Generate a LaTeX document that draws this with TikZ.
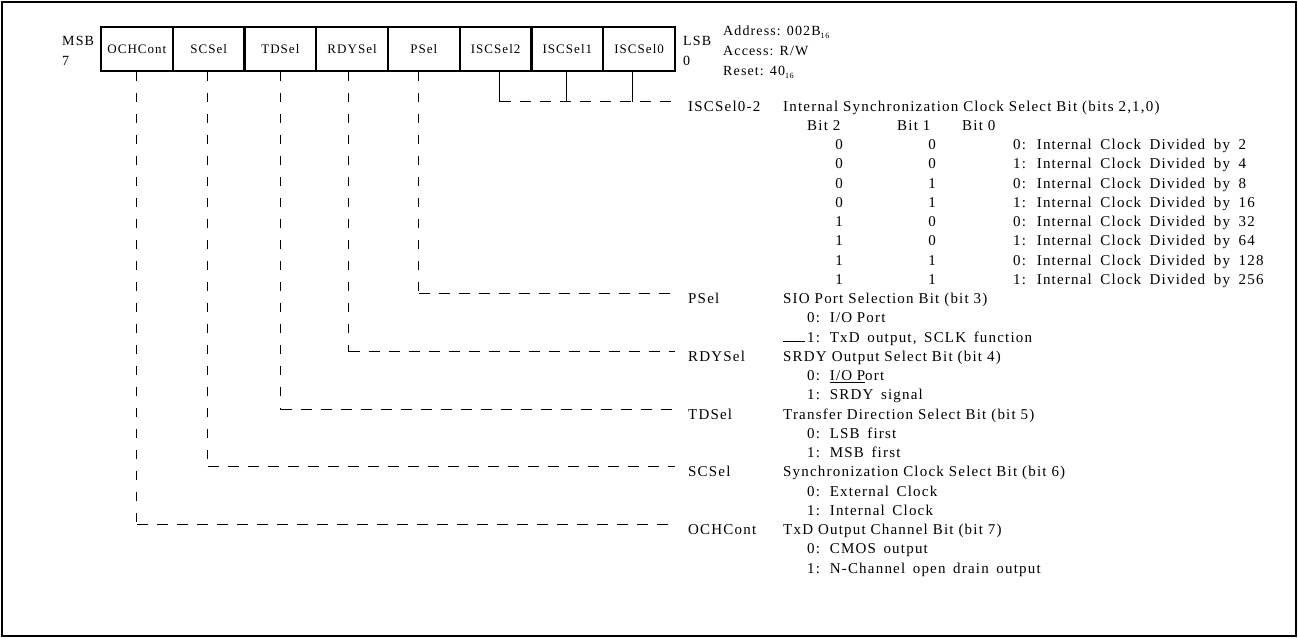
\documentclass[tikz,border=0pt]{standalone}
\usepackage{fontspec}
\setmainfont{Liberation Serif}
\newfontfamily\rfam[LetterSpace=8]{Liberation Serif}
\newcommand\mytxt{\rfam\fontsize{15}{18}\selectfont}
\newcommand\mycell{\rfam\fontsize{13}{15}\selectfont}
\newcommand\myaddr{\rfam\fontsize{14}{16}\selectfont}
\newcommand\mysub[1]{\raisebox{-3pt}{\rfam\fontsize{8}{8}\selectfont #1}}
\begin{document}
\begin{tikzpicture}[x=1pt,y=-1pt,
  frm/.style={line width=2pt},
  cell/.style={draw,line width=2.3pt,minimum width=71.75pt,minimum height=44pt,inner sep=0pt,font=\mycell,text height=9pt,text depth=0pt},
  lbl/.style={anchor=base west,inner sep=0pt,font=\mytxt},
  sub/.style={anchor=base west,inner sep=0pt,font={\mytxt\spaceskip=7.6pt plus 1pt\relax}},
  row/.style={anchor=base west,inner sep=0pt,font={\mytxt\spaceskip=8.6pt plus 1pt\relax}},
  val/.style={anchor=base,inner sep=0pt,font=\mytxt},
  adr/.style={anchor=base west,inner sep=0pt,font=\myaddr},
  vd/.style={line width=1pt,dash pattern=on 9pt off 12pt},
  hd/.style={line width=1pt,dash pattern=on 11pt off 9pt},
  sol/.style={line width=1pt}]
\useasboundingbox (0,0) rectangle (1298,638);
\draw[frm] (2,2) rectangle (1296,636);
% register cells
\foreach \k/\t [count=\n from 0] in {7/OCHCont,6/SCSel,5/TDSel,4/RDYSel,3/PSel,2/ISCSel2,1/ISCSel1,0/ISCSel0}
  \node[cell] (c\k) at ({101+71.75*(\n+0.5)},49) {\t};
\node[adr] (msb) at (62,45) {MSB};
\node[adr] (m7) at (62,65) {7};
\node[adr] (lsb) at (683,45) {LSB};
\node[adr] (l0b) at (683,65) {0};
\node[adr] (adr1) at (723,35) {Address: 002B\mysub{16}};
\node[adr] (adr2) at (723,55.5) {Access: R/W};
\node[adr] (adr3) at (723,75.5) {Reset: 40\mysub{16}};
% tap points
\coordinate (t7) at ([xshift=-0.375pt]c7.south);
\coordinate (t6) at ([xshift=-1.125pt]c6.south);
\coordinate (t5) at ([xshift=0.125pt]c5.south);
\coordinate (t4) at ([xshift=-3.625pt]c4.south);
\coordinate (t3) at ([xshift=-5.375pt]c3.south);
\coordinate (t2) at ([xshift=3.875pt]c2.south);
\coordinate (t1) at ([xshift=-0.875pt]c1.south);
\coordinate (t0) at ([xshift=-6.625pt]c0.south);
% line ends
\coordinate (eI) at (675,101.5);
\coordinate (e3) at (675,293.5);
\coordinate (e4) at (675,351.5);
\coordinate (e5) at (675,409.5);
\coordinate (e6) at (675,466.5);
\coordinate (e7) at (675,524.5);
% ISCSel group
\draw[sol] (t2) -- (t2 |- eI);
\draw[sol] (t1) -- (t1 |- eI);
\draw[sol] (t0) -- (t0 |- eI);
\draw[hd] (t2 |- eI) -- (eI);
% other connectors
\foreach \k in {3,4,5,6,7}{
  \draw[vd] (t\k) -- (t\k |- e\k);
  \draw[hd] (t\k |- e\k) -- (e\k);
}
% ISCSel text
\node[lbl] (nI) at (688,111) {ISCSel0-2};
\node[lbl] (dI) at (783,111) {Internal Synchronization Clock Select Bit (bits 2,1,0)};
\node[lbl] (h2) at (807,130.25) {Bit 2};
\node[lbl] (h1) at (897,130.25) {Bit 1};
\node[lbl] (h0) at (962,130.25) {Bit 0};
\foreach \i/\a/\b/\c/\d in {2/0/0/0/2,3/0/0/1/4,4/0/1/0/8,5/0/1/1/16,6/1/0/0/32,7/1/0/1/64,8/1/1/0/128,9/1/1/1/256}{
  \node[val] (va\i) at (839,{111+19.25*\i}) {\a};
  \node[val] (vb\i) at (932,{111+19.25*\i}) {\b};
  \node[row] (vc\i) at (1013,{111+19.25*\i}) {\c:\hspace{0.5pt} Internal Clock Divided by \d};
}
% PSel
\node[lbl] (n3) at (688,303.5) {PSel};
\node[lbl] (d3) at (783,303.5) {SIO Port Selection Bit (bit 3)};
\node[sub] (p11) at (807,322.75) {0:\hspace{0.5pt} I/O\hspace{-3pt} Port};
\node[sub] (p12) at (807,342) {1:\hspace{0.5pt} TxD output, SCLK function};
\draw[sol] ([xshift=-24pt,yshift=0.5pt]p12.base west) -- ([xshift=-2pt,yshift=0.5pt]p12.base west);
% RDYSel
\node[lbl] (n4) at (688,361.25) {RDYSel};
\node[lbl] (d4) at (783,361.25) {SRDY Output Select Bit (bit 4)};
\node[sub] (p14) at (807,380.5) {0:\hspace{0.5pt} \underline{I/O\hspace{-3pt} P}ort};
\node[sub] (p15) at (807,399.75) {1:\hspace{0.5pt} SRDY signal};
% TDSel
\node[lbl] (n5) at (688,419) {TDSel};
\node[lbl] (d5) at (783,419) {Transfer Direction Select Bit (bit 5)};
\node[sub] (p17) at (807,438.25) {0:\hspace{0.5pt} LSB first};
\node[sub] (p18) at (807,457.5) {1:\hspace{0.5pt} MSB first};
% SCSel
\node[lbl] (n6) at (688,476.75) {SCSel};
\node[lbl] (d6) at (783,476.75) {Synchronization Clock Select Bit (bit 6)};
\node[sub] (p20) at (807,496) {0:\hspace{0.5pt} External Clock};
\node[sub] (p21) at (807,515.25) {1:\hspace{0.5pt} Internal Clock};
% OCHCont
\node[lbl] (n7) at (688,534.5) {OCHCont};
\node[lbl] (d7) at (783,534.5) {TxD Output Channel Bit (bit 7)};
\node[sub] (p23) at (807,553.75) {0:\hspace{0.5pt} CMOS output};
\node[sub] (p24) at (807,573) {1:\hspace{0.5pt} N-Channel open drain output};
\end{tikzpicture}
\end{document}
